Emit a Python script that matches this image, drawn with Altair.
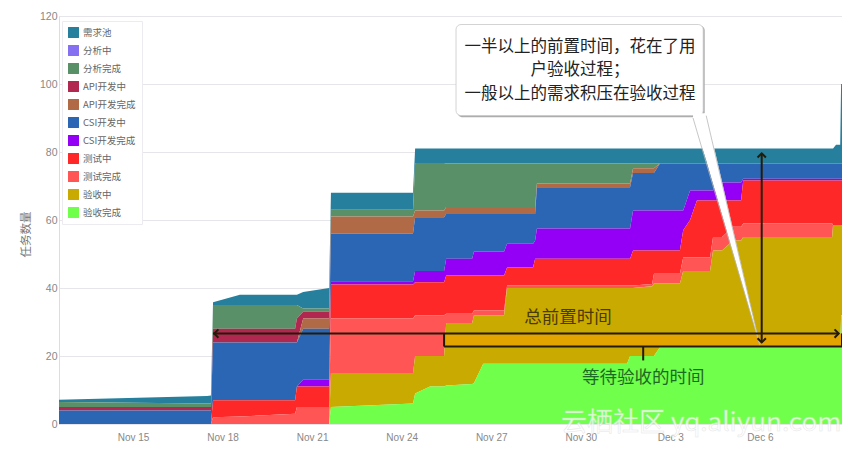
import altair as alt
import pandas as pd

# days after Nov 15, one entry per column of the series below
days = [-2.48, 2.48, 2.61, 2.68, 3.58, 5.43, 5.49, 5.70, 6.57, 6.63, 9.38, 9.45, 9.95, 10.42, 10.49,
        11.36, 11.42, 11.73, 12.43, 12.53, 13.40, 13.47, 13.53, 16.55, 16.65, 16.75, 17.39, 17.45, 17.65, 18.32,
        18.43, 18.66, 18.89, 19.33, 19.43, 19.73, 20.10, 20.37, 20.44, 23.42, 23.45, 23.55, 23.69, 23.72, 23.75]

accepted = [0, 0, 0, 0, 0, 0, 0, 0, 0, 5, 6, 9, 11, 11, 11.3,
            11.8, 12, 17.7, 17.7, 17.7, 17.7, 17.7, 17.7, 17.7, 20, 20, 20, 20, 22.6, 22.6,
            22.6, 22.6, 22.6, 22.6, 22.6, 22.6, 22.6, 22.6, 22.6, 22.6, 22.6, 22.6, 22.6, 32, 32]
accepting = [0, 0, 0, 0, 0, 0, 0, 0, 0, 10, 9, 11, 9, 9, 18.4,
             17.9, 20, 14.3, 14.3, 22.3, 22.3, 22.3, 22.3, 22.3, 20, 20, 20.5, 21.3, 18.7, 18.7,
             22.4, 22.4, 22.4, 22.4, 28.4, 28.4, 31.4, 31.4, 32.4, 32.4, 35.9, 35.9, 35.9, 26.5, 26.5]
tested = [0, 0, 0, 2, 2.2, 3, 5, 5, 5, 16, 16, 12, 12, 12, 2.7,
          2.7, 1.4, 1.4, 1.4, 0.7, 0.7, 0.7, 0.7, 0.7, 0.7, 0.7, 0.7, 2.9, 2.9, 2.9,
          4, 4, 4, 4, 4, 4, 4, 4, 4, 4, 0, 0, 0, 0, 0]
testing = [0, 0, 0, 5, 4.8, 4, 6, 6, 6, 10, 10, 9.7, 9.7, 9.7, 11.3,
           11.3, 10.3, 10.3, 10.3, 5.3, 5.3, 7.9, 7.9, 7.9, 7.9, 10.3, 9.8, 6.8, 6.8, 6.8,
           8, 11, 16.7, 16.7, 10.7, 10.7, 7.7, 7.7, 12.6, 12.6, 13.1, 13.1, 13.1, 13.1, 13.1]
csi_done = [0, 0, 0, 0, 0, 0, 0, 2, 2, 1, 1, 3.3, 3.3, 3.3, 4.9,
            4.9, 7, 7, 7, 7, 7, 5.4, 8.9, 8.9, 8.9, 11.8, 11.8, 11.8, 11.8, 11.8,
            5.8, 8.7, 3, 3, 3, 5.3, 5.3, 5.3, 0.5, 0.5, 0.5, 0.5, 0.5, 0.5, 0.5]
csi_dev = [4, 4, 4, 17, 17, 17, 13, 15, 15, 14, 14, 15.8, 15.8, 15.8, 13.2,
           13.2, 11.1, 11.1, 11.1, 8.8, 8.8, 7.8, 12.1, 12.1, 12.1, 11, 11, 11, 13.8, 13.8,
           13.8, 7.9, 7.9, 7.9, 7.9, 5.6, 5.6, 5.6, 4.5, 4.5, 4.5, 4.5, 4.5, 4.5, 4.5]
api_done = [0, 0, 0, 0, 0, 0, 0, 3, 3, 5, 5, 2, 2, 2, 2,
            2, 2, 2, 2, 2, 2, 2, 1.1, 1.1, 1.1, 1.4, 1.4, 1.4, 0, 0,
            0, 0, 0, 0, 0, 0, 0, 0, 0, 0, 0, 0, 0, 0, 0]
api_dev = [1, 1, 1, 4, 4, 4, 7, 2, 2, 0, 0, 0, 0, 0, 0,
           0, 0, 0, 0, 0, 0, 0, 0, 0, 0, 0, 0, 0, 0, 0,
           0, 0, 0, 0, 0, 0, 0, 0, 0, 0, 0, 0, 0, 0, 0]
analysed = [1.5, 1, 1, 7, 7, 7, 4, 1, 1, 2, 2, 14, 14, 14, 12.8,
            12.8, 12.8, 12.8, 12.8, 12.8, 12.8, 12.8, 5.9, 5.9, 5.9, 1.4, 1.4, 1.4, 0, 0,
            0, 0, 0, 0, 0, 0, 0, 0, 0, 0, 0, 0, 0, 0, 0]
analysing = [0] * 45
backlog = [0.6, 2.2, 2.4, 0.8, 3, 3, 3, 4.8, 6, 5, 5, 4.2, 4.2, 4.2, 4.4,
           4.4, 4.4, 4.4, 4.4, 4.4, 4.4, 4.4, 4.4, 4.4, 4.4, 4.4, 4.4, 4.4, 4.4, 4.4,
           4.4, 4.4, 4.4, 4.4, 4.4, 4.4, 4.4, 4.4, 4.4, 4.4, 4.4, 5.5, 5.5, 23.4, 23.4]

legend_names = ["需求池", "分析中", "分析完成", "API开发中", "API开发完成", "CSI开发中",
                "CSI开发完成", "测试中", "测试完成", "验收中", "验收完成"]
legend_colors = ["#267f9c", "#8470f0", "#5a9068", "#b0284f", "#b06a46", "#2a66b4",
                 "#9400f5", "#ff2828", "#ff5555", "#c9aa00", "#70ff4a"]
series = [backlog, analysing, analysed, api_dev, api_done, csi_dev,
          csi_done, testing, tested, accepting, accepted]


def stamp(d):
    return pd.Timestamp("2016-11-15") + pd.to_timedelta(d, unit="D")


rows = []
for rank, (name, values) in enumerate(zip(legend_names, series)):
    for d, v in zip(days, values):
        rows.append({"when": stamp(d), "name": name, "count": v, "rank": 10 - rank})
df = pd.DataFrame(rows)

x_scale = alt.Scale(domain=[alt.DateTime(year=2016, month="nov", date=12, hours=12, minutes=29),
                            alt.DateTime(year=2016, month="dec", date=8, hours=18)])
y_scale = alt.Scale(domain=[0, 120], nice=False)
tick_dates = [alt.DateTime(year=2016, month="nov", date=d) for d in [15, 18, 21, 24, 27, 30]] + \
             [alt.DateTime(year=2016, month="dec", date=d) for d in [3, 6]]

areas = alt.Chart(df).mark_area(interpolate="linear").encode(
    x=alt.X("when:T", scale=x_scale, title=None,
            axis=alt.Axis(values=tick_dates, format="%b %-d", grid=False, ticks=False, domain=False,
                          labelFontSize=10, labelColor="#888888", labelPadding=8, labelFont="Liberation Sans")),
    y=alt.Y("count:Q", stack="zero", scale=y_scale, title="任务数量",
            axis=alt.Axis(values=[0, 20, 40, 60, 80, 100, 120], gridColor="#e6e6ea", ticks=False,
                          domainColor="#dddddd", labelFontSize=10.5, labelColor="#888888", labelPadding=2,
                          labelFont="Liberation Sans", titleFontSize=11.5, titleColor="#777777",
                          titleFontWeight="normal", titleFont="Noto Sans CJK SC", titleX=-28, titleY=218)),
    color=alt.Color("name:N", scale=alt.Scale(domain=legend_names, range=legend_colors), sort=legend_names,
                    legend=alt.Legend(orient="none", legendX=3, legendY=5, title=None, fillColor="white",
                                      strokeColor="#ececf0", padding=6, symbolType="square", symbolSize=120,
                                      symbolStrokeWidth=0, labelFontSize=9.5, labelColor="#666666",
                                      labelFont="Noto Sans CJK SC", rowPadding=7, labelOffset=4)),
    order=alt.Order("rank:Q"),
)

# annotations, all in data space
band = alt.Chart(pd.DataFrame({"a": [stamp(10.42)], "b": [stamp(23.75)], "lo": [22.8], "hi": [26.6]})).mark_rect(
    color="#e3a400").encode(x=alt.X("a:T", scale=x_scale), x2="b:T",
                            y=alt.Y("lo:Q", scale=y_scale), y2="hi:Q")

shadow = alt.Chart(pd.DataFrame({"a": [stamp(10.87)], "b": [stamp(19.15)], "lo": [90.2], "hi": [117.2]})).mark_rect(
    color="#aaaaaa", cornerRadius=5).encode(x=alt.X("a:T", scale=x_scale), x2="b:T",
                                            y=alt.Y("lo:Q", scale=y_scale), y2="hi:Q")
box = alt.Chart(pd.DataFrame({"a": [stamp(10.82)], "b": [stamp(19.10)], "lo": [90.7], "hi": [117.5]})).mark_rect(
    color="white", stroke="#c8c8c8", strokeWidth=0.8, cornerRadius=5).encode(
    x=alt.X("a:T", scale=x_scale), x2="b:T", y=alt.Y("lo:Q", scale=y_scale), y2="hi:Q")

tail = alt.Chart(pd.DataFrame({"when": [stamp(18.76), stamp(19.2), stamp(21.0)],
                               "top": [91.4, 91.4, 23.1], "bottom": [89.9, 77.6, 23.1]})).mark_area(
    color="white", opacity=1, interpolate="linear").encode(
    x=alt.X("when:T", scale=x_scale), y=alt.Y("top:Q", scale=y_scale, stack=None), y2="bottom:Q")

edge_side = ["left", "left", "right", "right"]
edge_days = [18.76, 21.0, 19.2, 21.0]
edge_vals = [90.0, 23.1, 90.7, 23.1]
tail_edges = alt.Chart(pd.DataFrame({"when": [stamp(d) for d in edge_days], "v": edge_vals, "side": edge_side})).mark_line(
    color="#b8b8b8", strokeWidth=0.8).encode(
    x=alt.X("when:T", scale=x_scale), y=alt.Y("v:Q", scale=y_scale), detail="side:N")

seg_start = [2.68, 21.06, 10.42, 23.75, 10.42, 17.09]
seg_end = [23.62, 21.06, 10.42, 23.75, 23.75, 17.09]
seg_low = [26.6, 24.0, 22.8, 22.8, 22.8, 18.7]
seg_high = [26.6, 79.6, 26.6, 26.6, 22.8, 22.8]
segments = pd.DataFrame({"a": [stamp(d) for d in seg_start], "b": [stamp(d) for d in seg_end],
                         "lo": seg_low, "hi": seg_high})
rules = alt.Chart(segments).mark_rule(color="#241a08", strokeWidth=2).encode(
    x=alt.X("a:T", scale=x_scale), x2="b:T", y=alt.Y("lo:Q", scale=y_scale), y2="hi:Q")

head_days = [2.72, 23.64, 21.06, 21.06]
head_vals = [26.6, 26.6, 79.6, 24.0]
head_dirs = ["left", "right", "up", "down"]
heads = alt.Chart(pd.DataFrame({"when": [stamp(d) for d in head_days], "v": head_vals, "dir": head_dirs})).mark_point(
    filled=False, color="#241a08", strokeWidth=2, size=70, opacity=1).encode(
    x=alt.X("when:T", scale=x_scale), y=alt.Y("v:Q", scale=y_scale),
    shape=alt.Shape("dir:N", legend=None, scale=alt.Scale(
        domain=head_dirs,
        range=["M1,-1L0,0L1,1", "M-1,-1L0,0L-1,1", "M-1,1L0,0L1,1", "M-1,-1L0,0L1,-1"])))

note_lines = ["一半以上的前置时间，花在了用", "户验收过程；", "一般以上的需求积压在验收过程"]
note_vals = [111.0, 104.0, 97.2]
notes = alt.Chart(pd.DataFrame({"when": [stamp(14.97)] * 3, "v": note_vals, "t": note_lines})).mark_text(
    font="Noto Sans CJK SC", fontSize=16.5, color="#222222", baseline="middle").encode(
    x=alt.X("when:T", scale=x_scale), y=alt.Y("v:Q", scale=y_scale), text="t:N")

total_label = alt.Chart(pd.DataFrame({"when": [stamp(14.57)], "v": [31.3], "t": ["总前置时间"]})).mark_text(
    font="Noto Sans CJK SC", fontSize=17.5, color="#4a3a00", baseline="middle").encode(
    x=alt.X("when:T", scale=x_scale), y=alt.Y("v:Q", scale=y_scale), text="t:N")
wait_label = alt.Chart(pd.DataFrame({"when": [stamp(17.09)], "v": [13.4], "t": ["等待验收的时间"]})).mark_text(
    font="Noto Sans CJK SC", fontSize=17.5, color="#1c6a24", baseline="middle").encode(
    x=alt.X("when:T", scale=x_scale), y=alt.Y("v:Q", scale=y_scale), text="t:N")

watermark = alt.Chart(pd.DataFrame({"when": [stamp(19.03)], "v": [0.15], "t": ["云栖社区 yq.aliyun.com"]})).mark_text(
    font="Noto Sans CJK SC", fontSize=26, color="white", opacity=0.75, baseline="middle",
    stroke="#dcdcdc", strokeWidth=0.5).encode(
    x=alt.X("when:T", scale=x_scale), y=alt.Y("v:Q", scale=y_scale), text="t:N")

chart = alt.layer(areas, band, shadow, box, tail, tail_edges, rules, heads, notes, total_label, wait_label, watermark).resolve_scale(
    shape="independent"
).properties(
    width=783, height=408,
    autosize=alt.AutoSizeParams(type="none"),
    padding={"left": 51, "top": 8, "right": 0, "bottom": 18},
).configure_view(stroke="#e2e2e2")

chart.save("out.html", embed_options={"renderer": "svg", "actions": False})
